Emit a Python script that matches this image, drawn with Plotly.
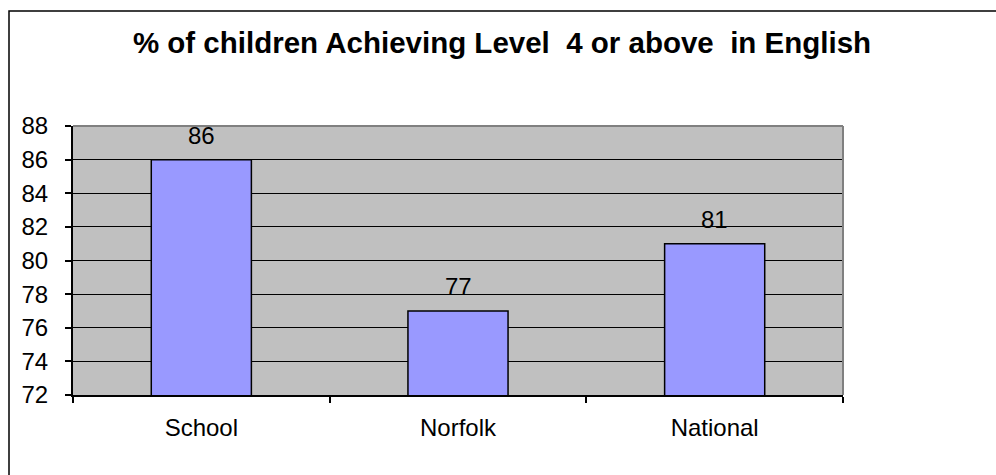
import plotly.graph_objects as go

categories = ["School", "Norfolk", "National"]
values = [86, 77, 81]
y_ticks = [72, 74, 76, 78, 80, 82, 84, 86, 88]
title_text = "% of children Achieving Level  4 or above  in English"

FONT = "Arial, 'Liberation Sans', sans-serif"

L, R, T, B = 73, 153, 126, 80
W, H = 996, 475
pw, ph = W - L - R, H - T - B

fig = go.Figure()
fig.add_trace(go.Bar(
    x=categories, y=values,
    marker=dict(color="#9999FF", line=dict(color="black", width=1.5)),
    width=0.39,
    hoverinfo="x+y",
))

for c, v in zip(categories, values):
    fig.add_annotation(x=c, y=v, text=str(v), showarrow=False,
                       yanchor="bottom", yshift=9,
                       font=dict(family=FONT, size=24, color="black"))

def px_x(p):
    return (p - L) / pw

def px_y(p):
    return (H - B - p) / ph

# outer border (right and bottom edges lie outside the picture)
fig.add_shape(type="rect", xref="paper", yref="paper",
              x0=px_x(9), x1=px_x(1030), y0=px_y(510), y1=px_y(11),
              line=dict(color="black", width=1.5), fillcolor="rgba(0,0,0,0)",
              layer="above")
# gray plot-area top & right
fig.add_shape(type="line", xref="paper", yref="paper", x0=0, x1=1, y0=1, y1=1,
              line=dict(color="#808080", width=2), layer="above")
fig.add_shape(type="line", xref="paper", yref="paper", x0=1, x1=1, y0=0, y1=1,
              line=dict(color="#808080", width=2), layer="above")

fig.update_layout(
    width=W, height=H,
    margin=dict(l=L, r=R, t=T, b=B),
    paper_bgcolor="white",
    plot_bgcolor="#C0C0C0",
    showlegend=False,
    font=dict(family=FONT, size=24, color="black"),
    title=dict(text="<b>" + title_text + "</b>", x=(133 + 871) / 2 / W, xanchor="center",
               y=1 - 43 / H, yanchor="middle",
               font=dict(family=FONT, size=29.5, color="black")),
    bargap=0.6,
)
fig.update_xaxes(
    type="category",
    showline=True, linecolor="black", linewidth=2,
    ticks="outside", ticklen=6, tickwidth=1.5, tickcolor="black",
    tickson="boundaries",
    showgrid=False,
    ticklabelstandoff=10,
    tickfont=dict(family=FONT, size=24),
)
fig.update_yaxes(
    range=[72, 88],
    tickvals=y_ticks,
    showline=True, linecolor="black", linewidth=2,
    ticks="outside", ticklen=6, tickwidth=1.5, tickcolor="black",
    showgrid=True, gridcolor="black", gridwidth=1,
    zeroline=False,
    ticklabelstandoff=12,
    tickfont=dict(family=FONT, size=24),
)

fig.write_html("out.html", config={"displayModeBar": False},
               post_script="document.body.style.margin='0';")
